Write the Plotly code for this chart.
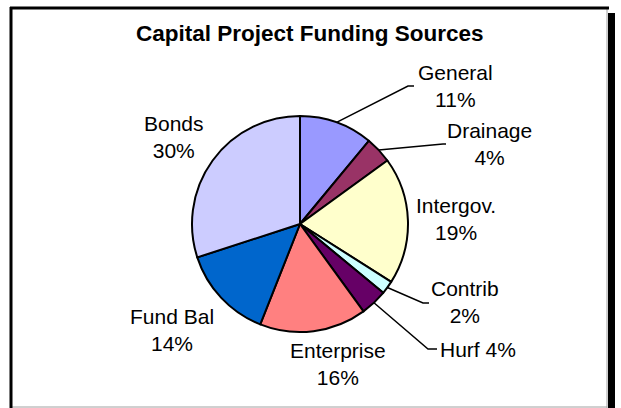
import math
import plotly.graph_objects as go

# Funding sources, in drawing order (clockwise from 12 o'clock)
sources = ["General", "Drainage", "Intergov.", "Contrib", "Hurf", "Enterprise", "Fund Bal", "Bonds"]
shares = [11, 4, 19, 2, 4, 16, 14, 30]
label_text = ["General<br>11%", "Drainage<br>4%", "Intergov.<br>19%", "Contrib<br>2%",
              "Hurf 4%", "Enterprise<br>16%", "Fund Bal<br>14%", "Bonds<br>30%"]

colors = ["#9999FF", "#993366", "#FFFFCC", "#CCFFFF", "#660066", "#FF8080", "#0066CC", "#CCCCFF"]

W, H = 621, 408
CX, CY, R = 300, 224, 108  # pie centre and radius in pixels


def px(x):
    return x / W


def py(y):
    return 1 - y / H


# label placement (pixel coords), anchor, and optional leader-line elbow
label_pos = [(455, 86), (489, 144), (456, 219), (465, 302), (438, 349), (338, 364), (172, 330), (174, 137)]
label_anchor = ["center", "center", "center", "center", "left", "center", "center", "center"]
leader_elbow = [((408, 86), (414, 86)), ((443, 144), (446, 144)), None,
                ((423, 303), (429, 303)), ((428, 349), (437, 349)), None, None, None]

fig = go.Figure(go.Pie(
    labels=sources,
    values=shares,
    sort=False,
    direction="clockwise",
    rotation=0,
    textinfo="none",
    hoverinfo="label+percent",
    marker=dict(colors=colors, line=dict(color="black", width=2)),
    domain=dict(x=[px(CX - R), px(CX + R)], y=[py(CY + R), py(CY - R)]),
    showlegend=False,
))

shapes = []
annotations = []

# leader lines from each slice's mid-angle on the rim
total = sum(shares)
cum = 0
for i, v in enumerate(shares):
    mid = (cum + v / 2) / total * 2 * math.pi
    cum += v
    if leader_elbow[i] is None:
        continue
    rx = CX + R * math.sin(mid)
    ry = CY - R * math.cos(mid)
    (ex, ey), (tx, ty) = leader_elbow[i]
    shapes.append(dict(type="path", xref="paper", yref="paper",
                       path=f"M {px(rx)},{py(ry)} L {px(ex)},{py(ey)} L {px(tx)},{py(ty)}",
                       line=dict(color="black", width=1.5)))

for i, t in enumerate(label_text):
    x, y = label_pos[i]
    annotations.append(dict(text=t, x=px(x), y=py(y), xref="paper", yref="paper",
                            xanchor=label_anchor[i], yanchor="middle", showarrow=False,
                            align="center",
                            font=dict(family="Liberation Sans, Arial, sans-serif", size=21, color="black")))

annotations.append(dict(text="<b>Capital Project Funding Sources</b>", x=px(310), y=py(33),
                        xref="paper", yref="paper", xanchor="center", yanchor="middle",
                        showarrow=False,
                        font=dict(family="Liberation Sans, Arial, sans-serif", size=22.5, color="black")))

# chart-area frame with drop shadow
shapes += [
    dict(type="rect", xref="paper", yref="paper", x0=px(608), x1=px(615), y0=py(412), y1=py(13),
         fillcolor="black", line=dict(width=0), layer="below"),
    dict(type="line", xref="paper", yref="paper", x0=px(607), x1=px(607), y0=py(9), y1=py(408),
         line=dict(color="#A0A0A0", width=1), layer="below"),
    dict(type="line", xref="paper", yref="paper", x0=px(12), x1=px(607), y0=py(407), y1=py(407),
         line=dict(color="#A0A0A0", width=1), layer="below"),
    dict(type="line", xref="paper", yref="paper", x0=px(10), x1=px(609), y0=py(8), y1=py(8),
         line=dict(color="black", width=3), layer="below"),
    dict(type="line", xref="paper", yref="paper", x0=px(11), x1=px(11), y0=py(7), y1=py(410),
         line=dict(color="black", width=3), layer="below"),
]

fig.update_layout(
    width=W, height=H,
    margin=dict(l=0, r=0, t=0, b=0),
    paper_bgcolor="white",
    plot_bgcolor="white",
    shapes=shapes,
    annotations=annotations,
)

fig.write_html("out.html")
